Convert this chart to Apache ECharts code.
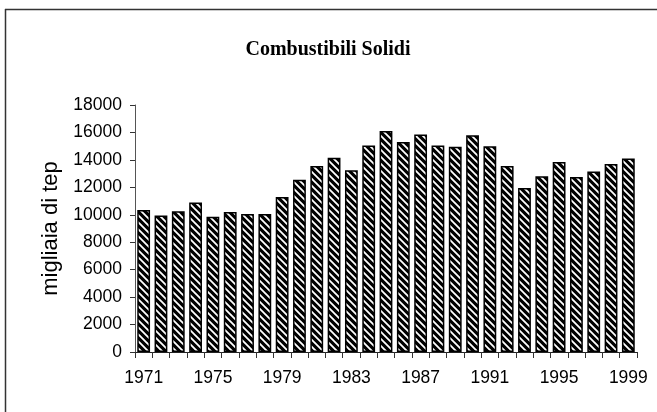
<!DOCTYPE html>
<html>
<head>
<meta charset="utf-8">
<script src="https://cdn.jsdelivr.net/npm/echarts@6/dist/echarts.min.js"></script>
<style>
  html, body { margin: 0; padding: 0; background: #fff; }
  #chart { width: 657px; height: 412px; }
</style>
</head>
<body>
<div id="chart"></div>
<script>
// dati
const anni = ['1971', '1972', '1973', '1974', '1975', '1976', '1977', '1978', '1979', '1980',
  '1981', '1982', '1983', '1984', '1985', '1986', '1987', '1988', '1989', '1990',
  '1991', '1992', '1993', '1994', '1995', '1996', '1997', '1998', '1999'];
const combustibili = [10350, 9950, 10250, 10900, 9850, 10200, 10050, 10050, 11300, 12550,
  13550, 14150, 13250, 15050, 16100, 15300, 15850, 15050, 14950, 15800,
  15000, 13550, 11950, 12800, 13850, 12750, 13150, 13700, 14100];
const yTicks = [0, 2000, 4000, 6000, 8000, 10000, 12000, 14000, 16000, 18000];

// tratteggio diagonale delle barre
function hatch() {
  const c = document.createElement('canvas');
  c.width = 7; c.height = 7;
  const ctx = c.getContext('2d');
  ctx.fillStyle = '#000';
  ctx.fillRect(0, 0, 7, 7);
  ctx.strokeStyle = '#fff';
  ctx.lineWidth = 1.8;
  ctx.beginPath();
  ctx.moveTo(-1, -1); ctx.lineTo(8, 8);
  ctx.moveTo(-8, -1); ctx.lineTo(1, 8);
  ctx.moveTo(6, -1); ctx.lineTo(15, 8);
  ctx.stroke();
  return c;
}

let chart = echarts.init(document.getElementById('chart'));
const option = {
  backgroundColor: '#fff',
  animation: false,
  title: {
    text: 'Combustibili Solidi',
    left: 323,
    top: 35,
    textAlign: 'center',
    textStyle: {
      fontFamily: 'Liberation Serif',
      fontWeight: 'bold',
      fontSize: 20,
      color: '#000'
    }
  },
  grid: {
    left: 135,
    right: 20,
    top: 105,
    bottom: 60
  },
  graphic: [
    { type: 'line', shape: { x1: 5, y1: 9.5, x2: 657, y2: 9.5 }, style: { stroke: '#333', lineWidth: 1.5 } },
    { type: 'line', shape: { x1: 5.5, y1: 9, x2: 5.5, y2: 412 }, style: { stroke: '#333', lineWidth: 1.5 } }
  ],
  xAxis: {
    type: 'category',
    data: anni,
    axisLine: { lineStyle: { color: '#222', width: 1.2 } },
    axisTick: { show: true, interval: 0, length: 6, lineStyle: { color: '#333' } },
    axisLabel: {
      interval: 3,
      margin: 17,
      fontFamily: 'Liberation Sans',
      fontSize: 17.5,
      color: '#000'
    }
  },
  yAxis: {
    type: 'value',
    min: yTicks[0],
    max: yTicks[yTicks.length - 1],
    interval: 2000,
    name: 'migliaia di tep',
    nameLocation: 'middle',
    nameGap: 60,
    nameTextStyle: {
      fontFamily: 'Liberation Sans',
      fontSize: 22,
      color: '#000'
    },
    axisLine: { show: true, lineStyle: { color: '#555', width: 1 } },
    axisTick: { show: true, length: 5, lineStyle: { color: '#333' } },
    splitLine: { show: false },
    axisLabel: {
      margin: 13,
      fontFamily: 'Liberation Sans',
      fontSize: 17.5,
      color: '#000',
      formatter: function (v) { return String(v); }
    }
  },
  series: [
    {
      name: 'Combustibili Solidi',
      type: 'bar',
      data: combustibili,
      barCategoryGap: '26%',
      itemStyle: {
        color: { image: hatch(), repeat: 'repeat' },
        borderColor: '#000',
        borderWidth: 1.5
      }
    }
  ]
};
chart.setOption(option);
</script>
</body>
</html>
